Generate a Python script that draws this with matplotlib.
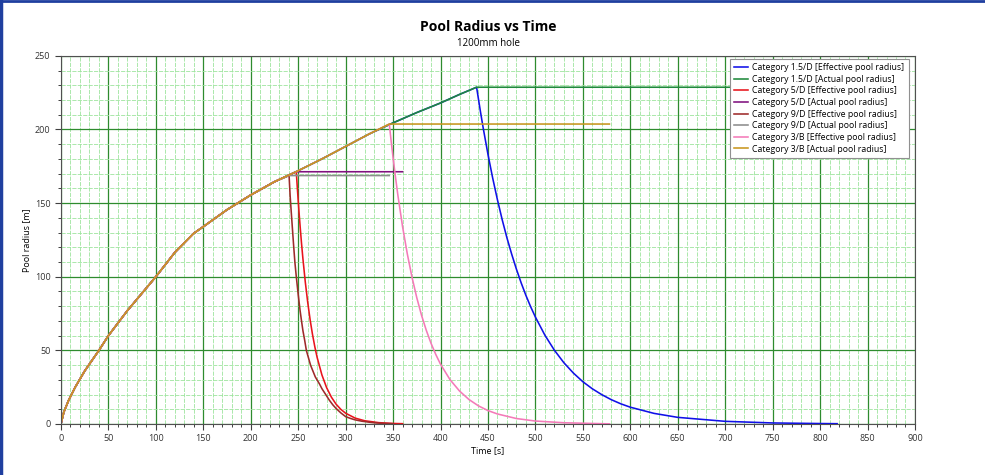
import numpy as np
import matplotlib
matplotlib.use('Agg')
import matplotlib.pyplot as plt
from matplotlib.ticker import MultipleLocator
from matplotlib.lines import Line2D

plt.rcParams['font.family'] = ['Open Sans', 'DejaVu Sans']

# shared pool growth (actual radius before spill stops)
growth_t = [0, 3, 8, 15, 25, 40, 50, 70, 100, 120, 140, 150, 175, 200, 225, 250, 275, 300, 325, 350, 375, 400, 420]
growth_r = [0, 8, 16, 25, 36, 50, 60, 77, 100, 116.5, 129.5, 134, 145.5, 155.5, 164.5, 172, 180, 188.5, 197, 204.5, 211.5, 218, 223.8]

categories = ['1.5/D', '5/D', '9/D', '3/B']
peak_t = [438, 248, 240.4, 346]
peak_r = [228.7, 171.3, 168.7, 203.7]
actual_end_t = [758, 360, 346, 578]

# effective pool radius decay after the peak
eff_1_5D_t = [438, 442, 445, 450, 455, 460, 465, 470, 475, 480, 485, 490, 495, 500, 510, 520, 530, 540, 550,
              560, 570, 580, 590, 600, 625, 650, 700, 750, 800, 818]
eff_1_5D_r = [228.7, 212.4, 200.9, 183.1, 166.9, 152.2, 138.7, 126.4, 115.3, 105.1, 95.8, 87.3, 79.6, 72.6, 60.3,
              50.1, 41.6, 34.6, 28.7, 23.9, 19.9, 16.5, 13.7, 11.4, 7.2, 4.5, 1.8, 0.7, 0.3, 0.2]
eff_5D_t = [248, 249, 250, 251, 252, 253.5, 255, 257.5, 260, 262.5, 265, 267.5, 270, 275, 280, 285, 290, 295,
            300, 310, 320, 335, 350, 360]
eff_5D_r = [171.3, 161.2, 151.8, 142.8, 134.5, 122.7, 112.1, 96.3, 82.8, 71.1, 61.1, 52.5, 45.1, 33.3, 24.6, 18.2,
            13.4, 9.9, 7.3, 4.0, 2.2, 0.9, 0.35, 0.2]
eff_9D_t = [240.4, 241.5, 243, 245, 246.5, 248, 250, 252, 253.5, 255, 256.8, 258.6, 260.8, 263, 265.5, 268, 270.3,
            272.6, 275, 278, 280.5, 283, 286.5, 290, 295, 300, 305, 310, 317, 325, 332, 340, 350]
eff_9D_r = [168.7, 155, 141, 122.8, 110, 100, 88, 77, 70, 63.3, 57, 50, 45, 40, 36, 32, 29.5,
            27, 24, 21, 18.5, 16, 13, 10.5, 7.5, 5, 3.8, 2.8, 1.9, 1.2, 0.7, 0.4, 0.2]
eff_3B_t = [346, 348, 350, 352.5, 355, 360, 365, 370, 375, 380, 385, 390, 395, 400, 410, 420, 430, 440, 450,
            460, 480, 500, 530, 560, 578]
eff_3B_r = [203.7, 191.9, 180.8, 167.8, 155.6, 134, 115.5, 99.5, 85.7, 73.8, 63.6, 54.8, 47.2, 40.6, 30.1, 22.4,
            16.6, 12.3, 9.1, 6.8, 3.7, 2.0, 0.84, 0.35, 0.1]

eff_t = [eff_1_5D_t, eff_5D_t, eff_9D_t, eff_3B_t]
eff_r = [eff_1_5D_r, eff_5D_r, eff_9D_r, eff_3B_r]

eff_colors = ['#1010e8', '#e8141c', '#9e2a2a', '#f47ab8']
act_colors = ['#1f8a3c', '#80107e', '#8c8c8c', '#c8961e']


def growth_until(t_peak, r_peak):
    t = [g for g in growth_t if g < t_peak]
    r = growth_r[:len(t)]
    return t + [t_peak], r + [r_peak]


fig = plt.figure(figsize=(9.85, 4.75), dpi=100, facecolor='white')
ax = fig.add_axes([0.0619, 0.1074, 0.867, 0.775])

for i, cat in enumerate(categories):
    gt, gr = growth_until(peak_t[i], peak_r[i])
    ax.plot(gt[:-1] + eff_t[i], gr[:-1] + eff_r[i], color=eff_colors[i], lw=1.15,
            label='Category %s [Effective pool radius]' % cat)
    ax.plot(gt + [actual_end_t[i]], gr + [peak_r[i]], color=act_colors[i], lw=1.15,
            label='Category %s [Actual pool radius]' % cat)

ax.set_xlim(0, 900)
ax.set_ylim(0, 250)
ax.xaxis.set_major_locator(MultipleLocator(50))
ax.xaxis.set_minor_locator(MultipleLocator(10))
ax.yaxis.set_major_locator(MultipleLocator(50))
ax.yaxis.set_minor_locator(MultipleLocator(10))
ax.grid(which='major', color='#2e8b2e', lw=0.9)
ax.grid(which='minor', color='#9ee49e', lw=0.6, linestyle=(0, (5, 1.5)))
ax.set_axisbelow(True)
ax.tick_params(which='major', labelsize=6.5, length=4, width=0.8, colors='#404040', labelcolor='#333333')
ax.tick_params(which='minor', length=2.5, width=0.7, colors='#404040')
for s in ax.spines.values():
    s.set_color('#505050')
    s.set_linewidth(0.8)

ax.set_xlabel('Time [s]', fontsize=6.5, labelpad=2)
ax.set_ylabel('Pool radius [m]', fontsize=6.5, labelpad=3)

leg = ax.legend(loc='upper right', bbox_to_anchor=(0.993, 0.992), borderaxespad=0,
                fontsize=6.3, labelspacing=0.3, handlelength=1.6, handletextpad=0.5,
                fancybox=False, framealpha=1, edgecolor='#909090', borderpad=0.5)
leg.get_frame().set_linewidth(0.8)

fig.text(0.4955, 0.943, 'Pool Radius vs Time', ha='center', va='center', fontsize=10, weight='bold')
fig.text(0.4955, 0.909, '1200mm hole', ha='center', va='center', fontsize=7)

# window border
fig.add_artist(Line2D([0.001, 0.001], [0, 1], transform=fig.transFigure, color='#1f3f9f', lw=2.5))
fig.add_artist(Line2D([0, 1], [0.998, 0.998], transform=fig.transFigure, color='#1f3f9f', lw=2))

fig.savefig('out.png', dpi=100, facecolor='white')
